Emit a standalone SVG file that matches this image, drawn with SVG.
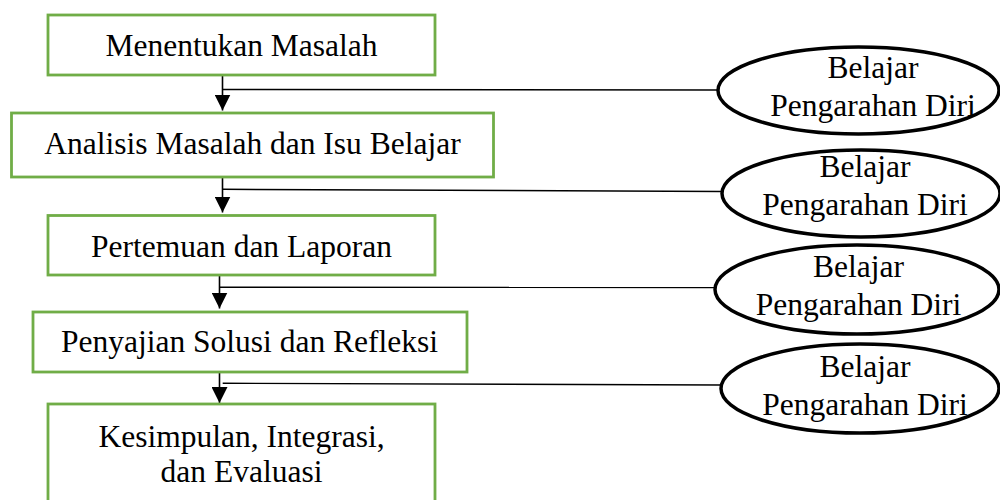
<svg xmlns="http://www.w3.org/2000/svg" width="1000" height="500" viewBox="0 0 1000 500">
  <style>
    .box { fill: #ffffff; stroke: #70ad47; stroke-width: 2.8; }
    .oval { fill: #ffffff; stroke: #000000; stroke-width: 3.5; }
    .lbl { font-family: "Liberation Serif", "Times New Roman", serif; font-size: 31.5px; fill: #000000; text-anchor: middle; }
    .flow { stroke: #000000; stroke-width: 1.6; fill: none; }
    .tap { stroke: #000000; stroke-width: 1.4; fill: none; }
  </style>
  <defs>
    <marker id="arrow" viewBox="0 0 16 16" refX="16" refY="8" markerWidth="16" markerHeight="16" markerUnits="userSpaceOnUse" orient="auto">
      <path d="M0,0 L16,8 L0,16 Z" fill="#000000"/>
    </marker>
  </defs>
  <rect width="1000" height="500" fill="#ffffff"/>

  <!-- connectors -->
  <g id="connectors">
    <line class="flow" x1="222.5" y1="75" x2="222.5" y2="110.5" marker-end="url(#arrow)"/>
    <line class="flow" x1="222.5" y1="177" x2="222.5" y2="212.5" marker-end="url(#arrow)"/>
    <line class="flow" x1="219.5" y1="275" x2="219.5" y2="308.5" marker-end="url(#arrow)"/>
    <line class="flow" x1="219.5" y1="372" x2="219.5" y2="403" marker-end="url(#arrow)"/>
    <line class="tap" x1="223" y1="89.5" x2="718" y2="90"/>
    <line class="tap" x1="223" y1="189.3" x2="722" y2="191.5"/>
    <line class="tap" x1="219.5" y1="287.3" x2="715" y2="287.5"/>
    <line class="tap" x1="222.7" y1="383.3" x2="721" y2="385"/>
  </g>

  <!-- process steps -->
  <g id="step1">
    <rect class="box" x="48" y="15" width="387" height="60"/>
    <text class="lbl" x="241.5" y="56">Menentukan Masalah</text>
  </g>
  <g id="step2">
    <rect class="box" x="11.5" y="113" width="482" height="64"/>
    <text class="lbl" x="252.5" y="154">Analisis Masalah dan Isu Belajar</text>
  </g>
  <g id="step3">
    <rect class="box" x="48" y="215.5" width="387" height="59.5"/>
    <text class="lbl" x="241.5" y="256.5">Pertemuan dan Laporan</text>
  </g>
  <g id="step4">
    <rect class="box" x="33" y="312" width="434" height="60"/>
    <text class="lbl" x="249.5" y="351.7">Penyajian Solusi dan Refleksi</text>
  </g>
  <g id="step5">
    <rect class="box" x="48" y="404" width="387" height="110"/>
    <text class="lbl" x="241.5" y="447">Kesimpulan, Integrasi,</text>
    <text class="lbl" x="241.5" y="482">dan Evaluasi</text>
  </g>

  <!-- self-directed learning ovals -->
  <g id="sdl1">
    <ellipse class="oval" cx="858.5" cy="90.5" rx="140.5" ry="43.5"/>
    <text class="lbl" x="873" y="78.3">Belajar</text>
    <text class="lbl" x="873" y="116">Pengarahan Diri</text>
  </g>
  <g id="sdl2">
    <ellipse class="oval" cx="861" cy="193.5" rx="139" ry="43.5"/>
    <text class="lbl" x="865" y="177.3">Belajar</text>
    <text class="lbl" x="865" y="215">Pengarahan Diri</text>
  </g>
  <g id="sdl3">
    <ellipse class="oval" cx="857" cy="289.5" rx="142" ry="44.5"/>
    <text class="lbl" x="858.5" y="276.7">Belajar</text>
    <text class="lbl" x="858.5" y="315">Pengarahan Diri</text>
  </g>
  <g id="sdl4">
    <ellipse class="oval" cx="860" cy="388.5" rx="139" ry="44.5"/>
    <text class="lbl" x="865" y="376.7">Belajar</text>
    <text class="lbl" x="865" y="415">Pengarahan Diri</text>
  </g>
</svg>
